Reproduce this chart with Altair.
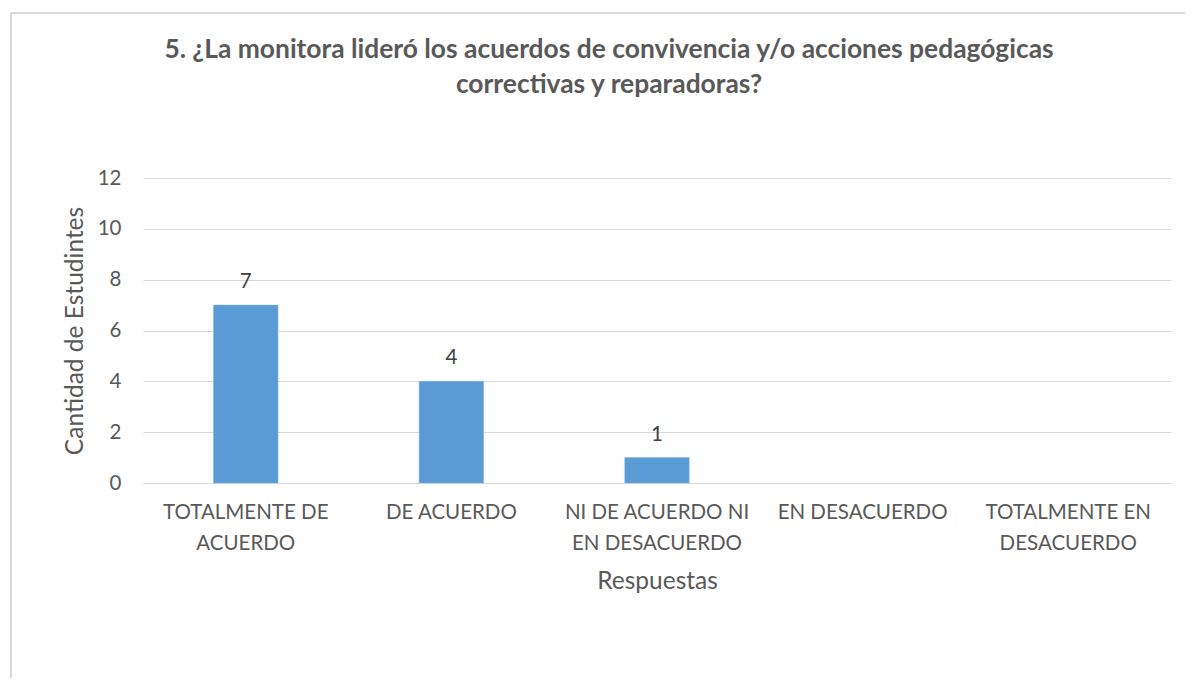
import altair as alt
import pandas as pd

categories = ["TOTALMENTE DE ACUERDO", "DE ACUERDO", "NI DE ACUERDO NI EN DESACUERDO",
              "EN DESACUERDO", "TOTALMENTE EN DESACUERDO"]
label_lines = [["TOTALMENTE DE", "ACUERDO"], ["DE ACUERDO"], ["NI DE ACUERDO NI", "EN DESACUERDO"],
               ["EN DESACUERDO"], ["TOTALMENTE EN", "DESACUERDO"]]
values = [7, 4, 1, None, None]
y_ticks = [0, 2, 4, 6, 8, 10, 12]

title_lines = ["5. ¿La monitora lideró los acuerdos de convivencia y/o acciones pedagógicas",
               "correctivas y reparadoras?"]

df = pd.DataFrame({"cat": categories, "val": values})

label_map = "{" + ", ".join(
    '"%s": [%s]' % (c, ", ".join('"%s"' % l for l in ls)) for c, ls in zip(categories, label_lines)
) + "}"

FONT = "Lato"
GREY = "#595959"

x_enc = alt.X("cat:N", sort=categories,
              scale=alt.Scale(paddingInner=0.6865, paddingOuter=0.343),
              axis=alt.Axis(title="Respuestas", labelAngle=0, labelExpr=label_map + "[datum.value]",
                            labelFontSize=20.5, labelColor=GREY, labelFont=FONT, labelLineHeight=31,
                            labelPadding=19, labelLimit=0, ticks=False, domainColor="#d9d9d9",
                            domainWidth=1, titleFontSize=24.5, titleColor=GREY, titleFont=FONT,
                            titleFontWeight="normal", titlePadding=16, labelBaseline="top"))
y_enc = alt.Y("val:Q", scale=alt.Scale(domain=[0, 12]),
              axis=alt.Axis(title="Cantidad de Estudintes", values=y_ticks, ticks=False, domain=False,
                            gridColor="#d9d9d9", gridWidth=1, labelFontSize=20.5, labelColor=GREY,
                            labelFont=FONT, labelPadding=22, titleFontSize=24.5, titleColor=GREY,
                            titleFont=FONT, titleFontWeight="normal", titlePadding=10))

bars = alt.Chart(df).mark_bar(color="#5B9BD5", stroke="#7fb2e0", strokeWidth=0.5).encode(x=x_enc, y=y_enc)
texts = alt.Chart(df).transform_filter("datum.val != null").mark_text(
    baseline="bottom", dy=-13, fontSize=20.5, font=FONT, color="#404040"
).encode(x=alt.X("cat:N", sort=categories), y="val:Q", text="val:Q")

frame_top = alt.Chart(df).mark_rule(color="#d9d9d9", strokeWidth=2).encode(
    x=alt.value(-132), x2=alt.value(1200), y=alt.value(-165))
frame_left = alt.Chart(df).mark_rule(color="#d9d9d9", strokeWidth=2).encode(
    x=alt.value(-132), y=alt.value(-165), y2=alt.value(700))

chart = alt.layer(frame_top, frame_left, bars, texts).properties(
    width=1028, height=305,
    title=alt.TitleParams(title_lines, font=FONT, fontSize=26.4, fontWeight="bold", color=GREY,
                          anchor="middle", dx=-48, offset=-86, lineHeight=35, frame="group"),
    autosize=alt.AutoSizeParams(type="none"),
    padding={"left": 135, "top": 170, "right": 14, "bottom": 195},
).configure(background="white").configure_view(stroke="transparent", strokeWidth=0)

chart.save("out.html", embed_options={"renderer": "svg", "actions": False})
